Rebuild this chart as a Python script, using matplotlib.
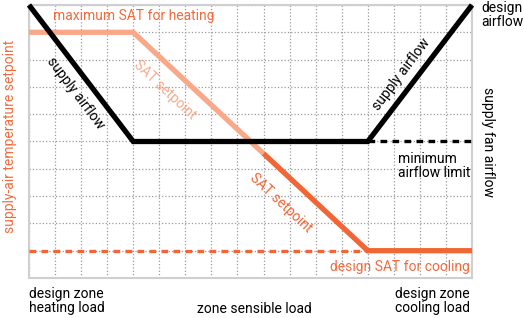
import matplotlib.pyplot as plt

plt.rcParams['font.family'] = ['Roboto', 'DejaVu Sans']

# chart values (x: zone load steps, y: relative level)
airflow_x = [0, 4, 13, 17]
airflow_y = [10, 5, 5, 10]
sat_heat_x = [0, 4, 9]
sat_heat_y = [9, 9, 4.56]
sat_cool_x = [9, 13, 17]
sat_cool_y = [4.56, 1, 1]
min_airflow_x = [13, 17]
min_airflow_y = [5, 5]
design_sat_x = [0, 13]
design_sat_y = [1, 1]

BLACK = '#000000'
LIGHT = '#f9a98a'
DARK = '#f26535'
TEXT_ORANGE = '#f36b3d'

fig = plt.figure(figsize=(5.24, 3.18), dpi=100)
ax = fig.add_axes([0.0553, 0.1258, 0.8455, 0.8585])
ax.set_xlim(0, 17)
ax.set_ylim(0, 10)
ax.set_xticks(range(0, 18))
ax.set_yticks(range(0, 11))
ax.tick_params(length=0, labelbottom=False, labelleft=False)
ax.grid(True, linestyle=':', color='#9a9a9a', linewidth=0.9)
for s in ax.spines.values():
    s.set_color('#cfcfcf')
    s.set_linewidth(1.5)

ax.plot(design_sat_x, design_sat_y, color=DARK, lw=2.4, linestyle=(0, (2, 1.6)),
        dash_capstyle='butt', zorder=3)
ax.plot(min_airflow_x, min_airflow_y, color=BLACK, lw=2.4, linestyle=(0, (2, 1.6)),
        dash_capstyle='butt', zorder=3)
ax.plot(sat_heat_x, sat_heat_y, color=LIGHT, lw=3.8, solid_capstyle='butt',
        solid_joinstyle='miter', zorder=4)
ax.plot(sat_cool_x, sat_cool_y, color=DARK, lw=3.8, solid_capstyle='butt',
        solid_joinstyle='miter', zorder=4, clip_on=False)
ax.plot(airflow_x, airflow_y, color=BLACK, lw=3.8, solid_capstyle='butt',
        solid_joinstyle='miter', zorder=5, clip_on=False)

fs = 10
ax.text(0.92, 9.6, 'maximum SAT for heating', color=TEXT_ORANGE, fontsize=fs,
        ha='left', va='center')
ax.text(1.77, 6.78, 'supply airflow', color=BLACK, fontsize=fs, rotation=-53,
        ha='center', va='center', rotation_mode='anchor')
ax.text(5.23, 6.88, 'SAT setpoint', color=LIGHT, fontsize=fs, rotation=-43,
        ha='center', va='center', rotation_mode='anchor')
ax.text(9.65, 2.75, 'SAT setpoint', color=DARK, fontsize=fs, rotation=-43,
        ha='center', va='center', rotation_mode='anchor')
ax.text(14.27, 7.47, 'supply airflow', color=BLACK, fontsize=fs, rotation=53,
        ha='center', va='center', rotation_mode='anchor')
ax.text(14.15, 4.1, 'minimum\nairflow limit', color=BLACK, fontsize=fs,
        ha='left', va='center', linespacing=1.05)
ax.text(16.9, 0.42, 'design SAT for cooling', color=TEXT_ORANGE, fontsize=fs,
        ha='right', va='center')

fig.text(481 / 524, 1 - 15 / 318, 'design\nairflow', color=BLACK, fontsize=fs,
         ha='left', va='center', linespacing=1.05)
fig.text(488 / 524, 1 - 142 / 318, 'supply fan airflow', color=BLACK, fontsize=fs,
         ha='center', va='center', rotation=-90)
fig.text(10 / 524, 1 - 136 / 318, 'supply-air temperature setpoint', color=TEXT_ORANGE,
         fontsize=fs, ha='center', va='center', rotation=90)
fig.text(29 / 524, 1 - 301 / 318, 'design zone\nheating load', color=BLACK, fontsize=fs,
         ha='left', va='center', linespacing=1.05)
fig.text(254 / 524, 1 - 309 / 318, 'zone sensible load', color=BLACK, fontsize=fs,
         ha='center', va='center')
fig.text(470 / 524, 1 - 301 / 318, 'design zone\ncooling load', color=BLACK, fontsize=fs,
         ha='right', va='center', multialignment='center', linespacing=1.05)

plt.savefig('out.png', dpi=100)
